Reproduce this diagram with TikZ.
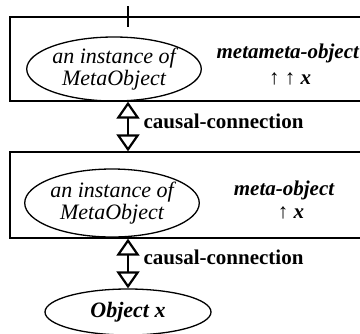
\documentclass[tikz,border=0pt]{standalone}
\usepackage{fontspec}
\setmainfont{Liberation Serif}
\usetikzlibrary{arrows.meta, positioning, shapes.geometric}

\newcommand{\diagfont}{\fontsize{21bp}{22bp}\selectfont}
\newcommand{\instfont}{\fontsize{22bp}{22bp}\selectfont}

\begin{document}
\begin{tikzpicture}[x=1bp, y=-1bp, line width=1.3bp,
    level/.style={draw, rectangle, minimum width=356bp, inner sep=0pt},
    inst/.style={draw, ellipse, minimum width=150bp, minimum height=64bp, inner sep=0pt, align=center, font=\instfont\itshape},
    tag/.style={font=\diagfont\bfseries\itshape, inner sep=0pt},
    causal/.style={{Triangle[open, length=17bp, width=23bp]}-{Triangle[open, length=17bp, width=23bp]}, line width=2.2bp},
    cclab/.style={font=\diagfont\bfseries, anchor=west, inner sep=0pt}]
    \useasboundingbox (0,0) rectangle (360,334);

    % levels
    \node[level, minimum height=84bp] (mmobox) at (188,59) {};
    \node[level, minimum height=86bp] (mobox) at (188,195) {};

    % instances
    \node[inst] (mmo) at (114,69) {an instance of\\MetaObject};
    \node[inst, minimum height=68bp] (mo) at (112,203) {an instance of\\MetaObject};
    \node[inst, minimum width=166bp, minimum height=46bp, font=\instfont\bfseries\itshape] (obj) at (128,312) {Object x};

    % tags
    \node[tag, anchor=west] (mmotag) at (216,53) {metameta-object};
    \node[tag] (mmoup) at (290,79) {↑ ↑ x};
    \node[tag] (motag) at (284,190) {meta-object};
    \node[tag] (moup) at (291,213) {↑ x};

    % connectors
    \coordinate (axis) at (128,0);
    \coordinate (feed) at (128,6);
    \coordinate (feedend) at (128,27);
    \draw (feed) -- (feedend);
    \draw[causal] (mmobox.south -| axis) -- (mobox.north -| axis);
    \draw[causal] (mobox.south -| obj) -- (obj.north);
    \node[cclab] (cc1) at (143,121) {causal-connection};
    \node[cclab] (cc2) at (143,257) {causal-connection};
\end{tikzpicture}
\end{document}
